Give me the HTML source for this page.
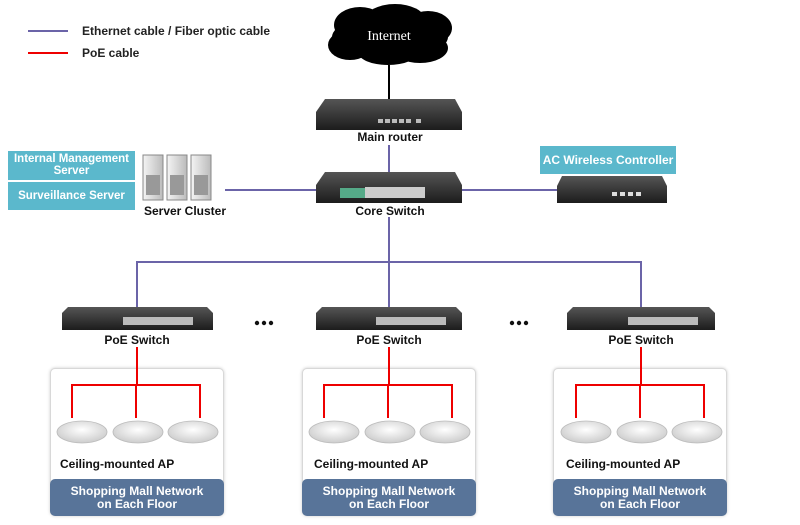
<!DOCTYPE html>
<html><head><style>
body{margin:0;width:800px;height:525px;background:#fff;position:relative;overflow:hidden;font-family:"Liberation Sans",Arial,sans-serif;}
.a{position:absolute}
.t{position:absolute;font-weight:bold;font-size:12px;color:#111;text-align:center}
.teal{position:absolute;background:#5bb8cc;color:#fff;font-weight:bold;font-size:11.5px;text-align:center;line-height:12px}
.box{position:absolute;border:1px solid #d8d8d8;border-radius:5px;background:#fff;box-shadow:0 0 3px #ccc}
.bar{position:absolute;left:-1px;right:-1px;bottom:-1px;height:37px;background:#587499;border-radius:5px;color:#fff;font-weight:bold;font-size:12px;text-align:center;line-height:13px;padding-top:6px;box-sizing:border-box}
</style></head><body>
<svg class="a" style="left:0;top:0" width="800" height="525">
<defs>
<linearGradient id="sw" x1="0" y1="0" x2="0" y2="1"><stop offset="0" stop-color="#555"/><stop offset="1" stop-color="#1c1c1c"/></linearGradient>
<radialGradient id="ap" cx="0.5" cy="0.4" r="0.6"><stop offset="0" stop-color="#fff"/><stop offset="1" stop-color="#ccc"/></radialGradient>
<linearGradient id="sv" x1="0" y1="0" x2="1" y2="0"><stop offset="0" stop-color="#f4f4f4"/><stop offset="1" stop-color="#bbb"/></linearGradient>
</defs>
<line x1="28" y1="31" x2="68" y2="31" stroke="#6b64a8" stroke-width="2"/>
<line x1="28" y1="53" x2="68" y2="53" stroke="#e00" stroke-width="2"/>
<g fill="#000"><ellipse cx="390" cy="37" rx="58" ry="22"/><ellipse cx="360" cy="25" rx="26" ry="18"/><ellipse cx="395" cy="20" rx="30" ry="16"/><ellipse cx="428" cy="28" rx="24" ry="17"/><ellipse cx="350" cy="45" rx="22" ry="15"/><ellipse cx="420" cy="48" rx="28" ry="15"/><ellipse cx="388" cy="52" rx="30" ry="13"/></g>
<line x1="389" y1="65" x2="389" y2="99" stroke="#000" stroke-width="2"/>
<g stroke="#6b64a8" stroke-width="2" fill="none">
<line x1="389" y1="145" x2="389" y2="174"/>
<line x1="225" y1="190" x2="318" y2="190"/>
<line x1="460" y1="190" x2="558" y2="190"/>
<line x1="389" y1="217" x2="389" y2="307"/>
<polyline points="137,307 137,262 641,262 641,307"/>
</g>
<polygon points="325,99 455,99 462,112 462,130 316,130 316,112" fill="url(#sw)"/>
<g fill="#bbb"><rect x="378" y="119" width="5" height="4"/><rect x="385" y="119" width="5" height="4"/><rect x="392" y="119" width="5" height="4"/><rect x="399" y="119" width="5" height="4"/><rect x="406" y="119" width="5" height="4"/><rect x="416" y="119" width="5" height="4"/></g>
<polygon points="325,172 455,172 462,185 462,203 316,203 316,185" fill="url(#sw)"/>
<rect x="340" y="188" width="25" height="10" fill="#5a8"/><rect x="365" y="187" width="60" height="11" fill="#ccc"/>
<polygon points="562,176 662,176 667,186 667,203 557,203 557,186" fill="url(#sw)"/>
<g fill="#ddd"><rect x="612" y="192" width="5" height="4"/><rect x="620" y="192" width="5" height="4"/><rect x="628" y="192" width="5" height="4"/><rect x="636" y="192" width="5" height="4"/></g>
<g fill="url(#sv)" stroke="#888"><rect x="143" y="155" width="20" height="45"/><rect x="167" y="155" width="20" height="45"/><rect x="191" y="155" width="20" height="45"/></g>
<g fill="#999"><rect x="146" y="175" width="14" height="20"/><rect x="170" y="175" width="14" height="20"/><rect x="194" y="175" width="14" height="20"/></g>
<g fill="url(#sw)"><polygon points="68,307 207,307 213,313 213,330 62,330 62,313"/><polygon points="322,307 456,307 462,313 462,330 316,330 316,313"/><polygon points="573,307 709,307 715,313 715,330 567,330 567,313"/></g>
<g fill="#bbb"><rect x="123" y="317" width="70" height="8"/><rect x="376" y="317" width="70" height="8"/><rect x="628" y="317" width="70" height="8"/></g>
<g fill="#111"><circle cx="257" cy="323" r="2.2"/><circle cx="264" cy="323" r="2.2"/><circle cx="271" cy="323" r="2.2"/><circle cx="512" cy="323" r="2.2"/><circle cx="519" cy="323" r="2.2"/><circle cx="526" cy="323" r="2.2"/></g>
</svg>
<div class="box" style="left:50px;top:368px;width:172px;height:146px"><div class="bar">Shopping Mall Network<br>on Each Floor</div></div>
<div class="box" style="left:302px;top:368px;width:172px;height:146px"><div class="bar">Shopping Mall Network<br>on Each Floor</div></div>
<div class="box" style="left:553px;top:368px;width:172px;height:146px"><div class="bar">Shopping Mall Network<br>on Each Floor</div></div>
<svg class="a" style="left:0;top:0" width="800" height="525">
<g stroke="#e00" stroke-width="2" fill="none">
<line x1="137" y1="347" x2="137" y2="385"/><polyline points="72,418 72,385 200,385 200,418"/><line x1="136" y1="385" x2="136" y2="418"/>
<line x1="389" y1="347" x2="389" y2="385"/><polyline points="324,418 324,385 452,385 452,418"/><line x1="388" y1="385" x2="388" y2="418"/>
<line x1="641" y1="347" x2="641" y2="385"/><polyline points="576,418 576,385 704,385 704,418"/><line x1="640" y1="385" x2="640" y2="418"/>
</g>
<g fill="url(#ap)" stroke="#bbb" stroke-width="0.8">
<ellipse cx="82" cy="432" rx="25" ry="11"/><ellipse cx="138" cy="432" rx="25" ry="11"/><ellipse cx="193" cy="432" rx="25" ry="11"/>
<ellipse cx="334" cy="432" rx="25" ry="11"/><ellipse cx="390" cy="432" rx="25" ry="11"/><ellipse cx="445" cy="432" rx="25" ry="11"/>
<ellipse cx="586" cy="432" rx="25" ry="11"/><ellipse cx="642" cy="432" rx="25" ry="11"/><ellipse cx="697" cy="432" rx="25" ry="11"/>
</g>
<text x="389" y="40" text-anchor="middle" fill="#fff" font-family="Liberation Serif,serif" font-size="14">Internet</text>
</svg>
<div class="a" style="left:82px;top:24px;font-size:12px;font-weight:bold;color:#222">Ethernet cable / Fiber optic cable</div>
<div class="a" style="left:82px;top:46px;font-size:12px;font-weight:bold;color:#222">PoE cable</div>
<div class="t" style="left:330px;top:130px;width:120px">Main router</div>
<div class="t" style="left:330px;top:204px;width:120px">Core Switch</div>
<div class="t" style="left:125px;top:204px;width:120px">Server Cluster</div>
<div class="teal" style="left:8px;top:151px;width:127px;height:29px;padding-top:2px;box-sizing:border-box">Internal Management<br>Server</div>
<div class="teal" style="left:8px;top:182px;width:127px;height:28px;line-height:28px">Surveillance Server</div>
<div class="teal" style="left:540px;top:146px;width:136px;height:28px;line-height:28px;font-size:12px">AC Wireless Controller</div>
<div class="t" style="left:77px;top:333px;width:120px">PoE Switch</div>
<div class="t" style="left:329px;top:333px;width:120px">PoE Switch</div>
<div class="t" style="left:581px;top:333px;width:120px">PoE Switch</div>
<div class="t" style="left:60px;top:457px;text-align:left">Ceiling-mounted AP</div>
<div class="t" style="left:314px;top:457px;text-align:left">Ceiling-mounted AP</div>
<div class="t" style="left:566px;top:457px;text-align:left">Ceiling-mounted AP</div>
</body></html>
